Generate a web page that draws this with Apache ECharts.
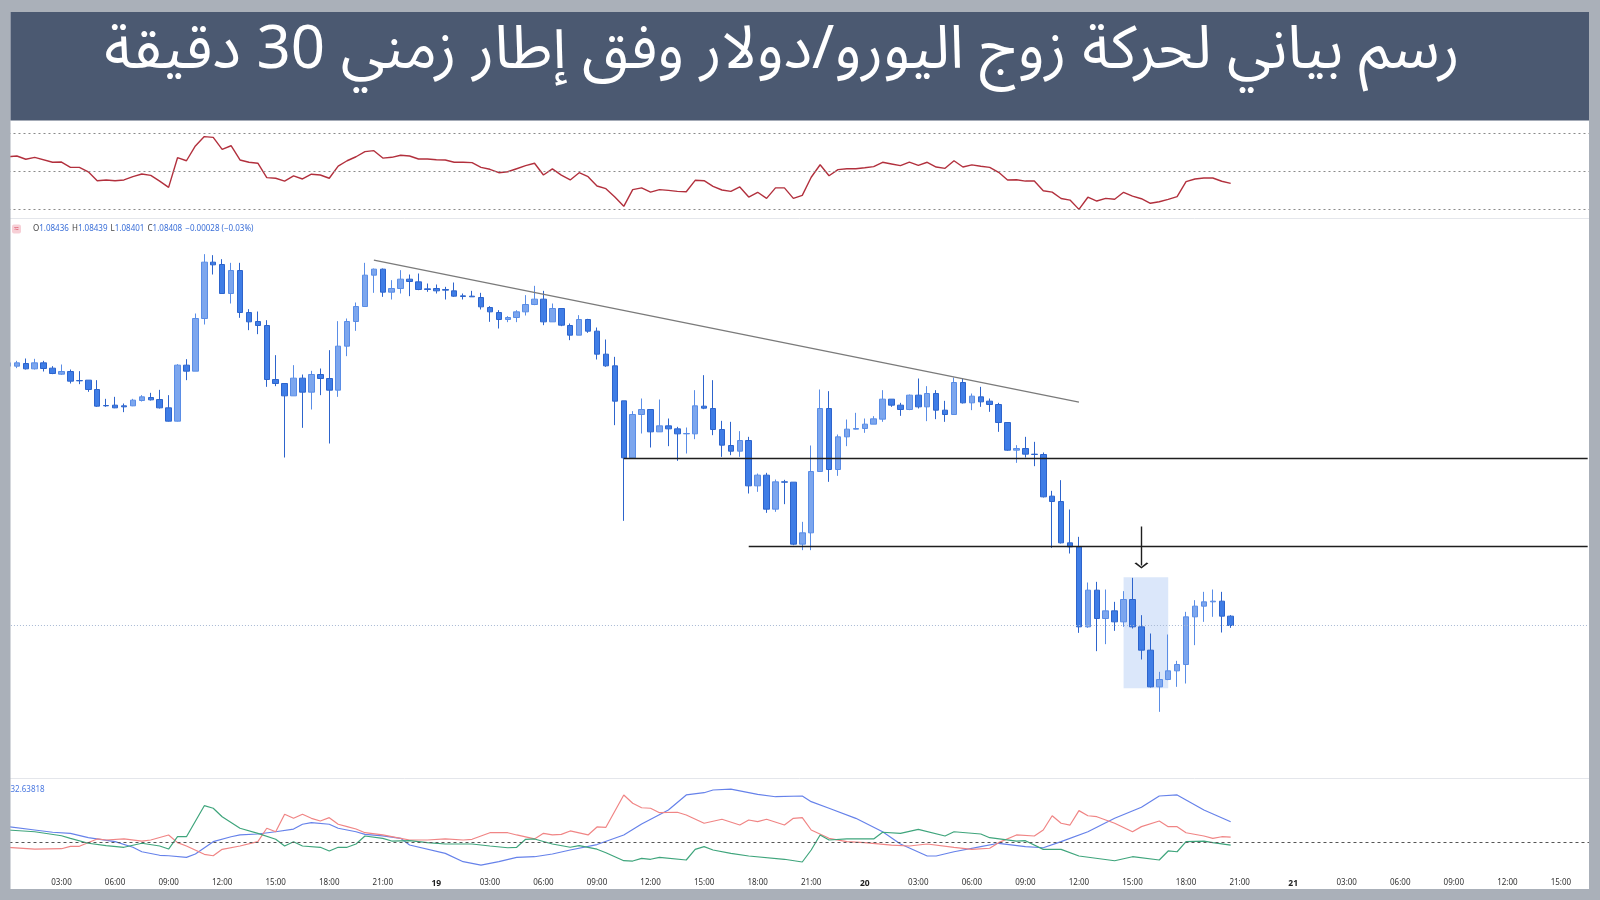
<!DOCTYPE html>
<html><head><meta charset="utf-8">
<script src="https://cdn.jsdelivr.net/npm/echarts@6/dist/echarts.min.js"></script>
<style>html,body{margin:0;padding:0;background:#aab0b9}#c{width:1600px;height:900px}</style>
</head><body><div id="c"></div>
<script>
const titleText = 'رسم بياني لحركة زوج اليورو/دولار وفق إطار زمني 30 دقيقة';
const adxLabel = '32.63818';
// 30-minute slots starting on day 18 at 00:00
const slotCount = 178;
const categories = [];
for (let i = 0; i < slotCount; i++) {
  const m = i * 30, d = 18 + Math.floor(m / 1440), hm = m % 1440;
  categories.push(d + ' ' + String(Math.floor(hm / 60)).padStart(2, '0') + ':' + String(hm % 60).padStart(2, '0'));
}
// one tick label every 6 slots (3 hours)
const tickLabels = ['18','03:00','06:00','09:00','12:00','15:00','18:00','21:00',
  '19','03:00','06:00','09:00','12:00','15:00','18:00','21:00',
  '20','03:00','06:00','09:00','12:00','15:00','18:00','21:00',
  '21','03:00','06:00','09:00','12:00','15:00'];
const dayTicks = ['18','19','20','21'];

const openP = [1.09186,1.09186,1.09194,1.09178,1.09196,1.09180,1.09162,1.09170,1.09143,1.09144,
1.09116,1.09068,1.09069,1.09067,1.09067,1.09083,1.09092,1.09086,1.09061,1.09021,
1.09189,1.09171,1.09329,1.09498,1.09491,1.09404,1.09473,1.09347,1.09320,1.09308,
1.09146,1.09134,1.09097,1.09150,1.09108,1.09161,1.09149,1.09114,1.09246,1.09320,
1.09365,1.09459,1.09477,1.09408,1.09419,1.09447,1.09439,1.09418,1.09419,1.09416,
1.09412,1.09397,1.09396,1.09392,1.09362,1.09347,1.09326,1.09332,1.09349,1.09371,
1.09387,1.09319,1.09359,1.09308,1.09279,1.09326,1.09291,1.09222,1.09187,1.09082,
1.08911,1.09041,1.09056,1.08989,1.09007,1.08998,1.08983,1.08983,1.09066,1.09059,
1.08996,1.08948,1.08931,1.08963,1.08827,1.08859,1.08757,1.08839,1.08838,1.08652,
1.08686,1.08870,1.09059,1.08876,1.08974,1.08997,1.08999,1.09012,1.09027,1.09087,
1.09069,1.09056,1.09099,1.09064,1.09104,1.09054,1.09041,1.09137,1.09076,1.09094,
1.09081,1.09071,1.09017,1.08934,1.08939,1.08922,1.08921,1.08796,1.08780,1.08656,
1.08644,1.08404,1.08514,1.08429,1.08452,1.08419,1.08486,1.08404,1.08334,1.08224,
1.08246,1.08272,1.08291,1.08434,1.08466,1.08479,1.08481,1.08436];
const closeP = [1.09196,1.09196,1.09178,1.09196,1.09179,1.09164,1.09170,1.09141,1.09142,1.09116,
1.09066,1.09067,1.09061,1.09064,1.09084,1.09094,1.09085,1.09061,1.09021,1.09189,
1.09171,1.09329,1.09498,1.09490,1.09404,1.09473,1.09347,1.09319,1.09308,1.09146,
1.09134,1.09097,1.09150,1.09108,1.09161,1.09149,1.09114,1.09246,1.09320,1.09365,
1.09459,1.09477,1.09408,1.09419,1.09447,1.09440,1.09416,1.09416,1.09412,1.09414,
1.09396,1.09395,1.09394,1.09364,1.09349,1.09326,1.09332,1.09349,1.09371,1.09387,
1.09319,1.09359,1.09309,1.09279,1.09326,1.09291,1.09222,1.09187,1.09081,1.08911,
1.09041,1.09056,1.08989,1.09007,1.08998,1.08983,1.08984,1.09067,1.09060,1.08996,
1.08949,1.08931,1.08963,1.08827,1.08859,1.08757,1.08839,1.08838,1.08652,1.08686,
1.08870,1.09059,1.08876,1.08974,1.08997,1.08999,1.09012,1.09028,1.09087,1.09069,
1.09056,1.09099,1.09064,1.09104,1.09054,1.09041,1.09137,1.09076,1.09096,1.09079,
1.09071,1.09017,1.08934,1.08939,1.08922,1.08921,1.08794,1.08780,1.08656,1.08644,
1.08404,1.08514,1.08429,1.08452,1.08419,1.08486,1.08404,1.08334,1.08224,1.08246,
1.08272,1.08291,1.08434,1.08466,1.08479,1.08481,1.08436,1.08408];
const lowP = [1.09182,1.09180,1.09176,1.09176,1.09170,1.09162,1.09160,1.09134,1.09132,1.09109,
1.09064,1.09064,1.09060,1.09048,1.09066,1.09080,1.09083,1.09059,1.09020,1.09020,
1.09144,1.09171,1.09311,1.09461,1.09404,1.09374,1.09331,1.09294,1.09282,1.09124,
1.09126,1.08912,1.09097,1.09001,1.09056,1.09099,1.08954,1.09094,1.09216,1.09292,
1.09365,1.09406,1.09394,1.09386,1.09404,1.09396,1.09414,1.09409,1.09404,1.09386,
1.09394,1.09386,1.09394,1.09356,1.09319,1.09299,1.09318,1.09318,1.09338,1.09369,
1.09309,1.09319,1.09306,1.09264,1.09279,1.09286,1.09206,1.09184,1.09009,1.08722,
1.08911,1.08984,1.08942,1.08989,1.08946,1.08902,1.08924,1.08967,1.09057,1.08979,
1.08914,1.08919,1.08914,1.08804,1.08809,1.08746,1.08749,1.08772,1.08649,1.08634,
1.08634,1.08870,1.08839,1.08857,1.08946,1.08996,1.08986,1.09012,1.09019,1.09064,
1.09037,1.09054,1.09059,1.09021,1.09027,1.09019,1.09041,1.09074,1.09054,1.09064,
1.09049,1.08989,1.08932,1.08896,1.08912,1.08886,1.08792,1.08641,1.08654,1.08624,
1.08386,1.08401,1.08331,1.08352,1.08392,1.08404,1.08399,1.08306,1.08222,1.08149,
1.08244,1.08224,1.08234,1.08349,1.08419,1.08434,1.08387,1.08401];
const highP = [1.09202,1.09202,1.09209,1.09208,1.09202,1.09186,1.09191,1.09176,1.09171,1.09144,
1.09144,1.09088,1.09094,1.09074,1.09088,1.09099,1.09106,1.09115,1.09099,1.09192,
1.09207,1.09344,1.09522,1.09519,1.09507,1.09496,1.09496,1.09357,1.09350,1.09324,
1.09219,1.09134,1.09189,1.09161,1.09172,1.09179,1.09234,1.09321,1.09329,1.09377,
1.09496,1.09479,1.09479,1.09444,1.09474,1.09461,1.09464,1.09434,1.09431,1.09424,
1.09437,1.09404,1.09412,1.09406,1.09366,1.09354,1.09336,1.09354,1.09399,1.09427,
1.09412,1.09374,1.09359,1.09314,1.09339,1.09328,1.09302,1.09266,1.09214,1.09082,
1.09051,1.09089,1.09056,1.09086,1.09029,1.09004,1.09002,1.09114,1.09159,1.09144,
1.09022,1.09019,1.08991,1.08974,1.08864,1.08866,1.08846,1.08845,1.08838,1.08719,
1.08948,1.09116,1.09111,1.08981,1.09026,1.09046,1.09029,1.09036,1.09114,1.09087,
1.09076,1.09101,1.09149,1.09126,1.09114,1.09082,1.09152,1.09149,1.09104,1.09124,
1.09089,1.09076,1.09017,1.08949,1.08974,1.08959,1.08927,1.08812,1.08844,1.08756,
1.08674,1.08537,1.08539,1.08516,1.08479,1.08511,1.08551,1.08439,1.08384,1.08269,
1.08381,1.08302,1.08449,1.08484,1.08509,1.08516,1.08509,1.08439];

// RSI (slot index, value)
const rsiPts = [[0,57.5],[1,57.9],[2,56.2],[3,57.2],[5,54.6],[6,54.7],[7,51.9],[8,51.9],[9,49.6],[10,44.9],[11,45.3],[12,44.9],[13,45.3],[14,47.0],[15,48.4],[16,47.7],[17,44.7],[18,41.4],[19,57.0],[20,55.4],[21,63.2],[22,68.1],[23,67.7],[24,61.4],[25,63.3],[26,55.8],[27,54.6],[28,54.1],[29,46.5],[30,46.2],[31,44.7],[32,47.4],[33,45.8],[34,48.3],[35,47.9],[36,46.2],[37,52.6],[38,55.4],[39,57.5],[40,60.2],[41,60.7],[42,56.8],[43,57.2],[44,58.3],[45,57.9],[46,56.3],[47,56.3],[48,55.9],[49,55.8],[50,54.6],[51,54.6],[52,54.4],[53,51.9],[54,50.9],[55,49.1],[56,49.6],[57,51.2],[58,52.8],[59,54.1],[60,47.9],[61,51.1],[62,47.8],[63,45.3],[64,49.1],[65,47.0],[66,42.1],[67,40.7],[68,36.3],[69,31.4],[70,40.2],[71,41.1],[72,38.9],[73,40.2],[74,39.8],[75,39.3],[76,39.1],[77,45.1],[78,44.9],[79,41.9],[80,40.0],[81,39.3],[82,41.6],[83,36.3],[84,38.8],[85,35.6],[86,41.1],[87,41.1],[88,35.6],[89,37.2],[90,46.7],[91,53.3],[92,47.5],[93,50.7],[94,51.2],[95,51.2],[96,51.7],[97,52.3],[98,54.6],[99,53.7],[100,52.8],[101,54.7],[102,53.0],[103,54.6],[104,52.1],[105,51.4],[106,55.4],[107,52.1],[108,53.2],[109,52.5],[110,51.9],[111,49.3],[112,45.3],[113,45.4],[114,44.7],[115,44.7],[116,39.6],[117,38.9],[118,35.5],[119,34.7],[120,29.8],[121,36.2],[122,34.2],[123,35.6],[124,35.1],[125,38.8],[126,36.8],[127,35.4],[128,33.0],[129,33.8],[130,35.1],[131,36.5],[132,44.4],[133,45.8],[134,46.3],[135,46.3],[136,44.6],[137,43.5]];
const rsiLevels = [70, 50, 30];

// DMI panel (slot index, value)
const adxPts = [[0,29.6],[3,27.5],[5,26.1],[7,25.4],[9,22.7],[12,20.2],[14,16.7],[15,13.9],[17,11.7],[18,11.4],[20,10.4],[21,12.5],[23,20.2],[25,23.3],[26,24.4],[28,25],[30,26.4],[32,28.1],[33,31.1],[34,32.1],[36,31.1],[37,28.6],[39,26.4],[40,24.8],[42,23.8],[44,22.3],[45,18.1],[49,12.9],[51,7.7],[53,5.6],[55,7.7],[57,10.4],[59,10.8],[61,12.5],[63,15],[66,18.4],[69,24.4],[71,31.3],[74,40],[76,49.4],[78,50.8],[79,52.5],[81,53.1],[84,49.8],[86,48.3],[89,48.75],[90,45.2],[92,41.1],[95,34.8],[98,26.4],[100,18.75],[103,11.25],[104,11.25],[106,13.9],[109,17.1],[111,19.2],[114,17.1],[116,16.4],[118,20.2],[121,26.4],[124,34.8],[127,41.7],[129,48.75],[131,49.4],[132,46.25],[134,40],[137,32.64]];
const diMinusPts = [[0,16.7],[3,15.6],[6,15.8],[7,17.3],[8,17.3],[10,21.9],[11,21.25],[13,21.9],[15,20.6],[16,21.25],[18,24.4],[19,19.6],[20,17.5],[22,12.3],[23,11.4],[24,15.4],[26,17.5],[28,20.2],[29,28.6],[30,26.4],[31,37.3],[32,34.8],[33,37.3],[34,34.8],[35,33.1],[36,35.2],[37,31.1],[38,29.6],[39,28.1],[40,25.8],[42,24.4],[44,22.3],[45,21.25],[47,21.25],[49,21.9],[51,21.25],[52,21.7],[54,25.8],[56,25.8],[57,24.4],[59,21.9],[60,25.4],[61,24.4],[62,24.8],[63,26.9],[65,24.4],[66,29.4],[67,29.2],[69,49.4],[70,44.2],[71,41.4],[72,41.1],[73,38.3],[75,38.6],[76,36.9],[78,31.7],[80,34.2],[82,30.6],[83,33.75],[84,32.7],[85,34.2],[87,30.6],[88,34.8],[89,35.2],[90,27.5],[92,22.3],[94,20.2],[96,19.6],[99,18.1],[101,17.5],[103,18.75],[106,16.7],[108,15.4],[110,16.1],[111,19.6],[113,24.4],[115,23.75],[116,27.5],[117,36.4],[118,31.7],[119,30.6],[120,39.6],[121,36.4],[122,35.8],[124,31.7],[126,26.4],[127,29.6],[129,33.1],[130,29.6],[131,29.6],[132,25.8],[134,23.75],[135,22.3],[136,23.3],[137,23.1]];
const diPlusPts = [[0,27.5],[3,26.4],[6,23.9],[7,22.3],[9,19.2],[11,17.7],[13,16.7],[15,19.2],[17,17.5],[18,15.6],[19,23.3],[20,23.3],[22,42.7],[23,41.1],[24,35.8],[26,28.6],[28,25.4],[30,21.7],[31,17.5],[32,20.2],[33,17.5],[35,16.7],[36,14.4],[37,16.7],[38,16.7],[39,18.75],[40,23.75],[42,22.3],[43,20.6],[45,20.8],[47,19.6],[49,18.75],[51,18.75],[52,18.75],[54,17.5],[56,16.4],[57,16.7],[58,21.7],[59,21.9],[61,18.75],[63,16.7],[64,17.7],[66,15.5],[67,13.3],[69,8.3],[70,8.1],[71,9.8],[72,9.2],[73,10.4],[76,8.75],[77,15.4],[78,17.1],[79,15],[81,12.9],[83,11.25],[87,9.2],[89,7.5],[90,15],[91,24.4],[92,21.25],[94,21.9],[97,21.9],[98,26.1],[100,25.4],[102,27.9],[105,23.75],[106,26.4],[109,25],[110,22.7],[113,20.6],[114,20.8],[116,15.4],[118,15.4],[120,11.25],[124,8.3],[126,10.8],[129,8.75],[130,14.4],[131,13.9],[132,20.2],[134,20.6],[135,19.6],[137,18.1]];
const dmiLevel = 20;

// annotations (slot index, price)
const trendLine = [[41, 1.09504], [120, 1.09078]];
const supportLines = [[69, 1.08911], [83, 1.08647]];
const lastSlot = 177;
const arrowLine = [[127, 1.08705], [127, 1.08588]];
const highlightBox = [[125, 1.08553], [130, 1.08220]];

const GL = 3.49, GR = 7.86;
const last = openP.length - 1;
const chg = closeP[last] - openP[last];
const chgPct = chg / openP[last] * 100;
const fmtSigned = (v, d) => (v < 0 ? '\u2212' : '+') + Math.abs(v).toFixed(d);
const ohlcText = '{l|O}{v|' + openP[last].toFixed(5) + '} {l|H}{v|' + highP[last].toFixed(5) + '} {l|L}{v|' + lowP[last].toFixed(5) +
  '} {l|C}{v|' + closeP[last].toFixed(5) + '} {v|' + fmtSigned(chg, 5) + ' (' + fmtSigned(chgPct, 2) + '%)}';

const candleData = openP.map((o, i) => [o, closeP[i], lowP[i], highP[i]]);
const chevron = 'path://M5,0 L10,8 L8.7,9.2 L5,2.8 L1.3,9.2 L0,8 Z';

const chart = echarts.init(document.getElementById('c'), null, {renderer: 'canvas'});
const FONT = '"Noto Sans", "Liberation Sans", "DejaVu Sans", sans-serif';
const hiddenX = (gi) => ({type: 'category', gridIndex: gi, data: categories, boundaryGap: true, show: false});

chart.setOption({
  animation: false,
  backgroundColor: '#ffffff',
  grid: [
    {left: GL, right: GR, top: 122, height: 96},
    {left: GL, right: GR, top: 232, height: 544},
    {left: GL, right: GR, top: 780, height: 88}
  ],
  xAxis: [hiddenX(0), hiddenX(1), {
    type: 'category', gridIndex: 2, data: categories, boundaryGap: true,
    axisLine: {show: false}, axisTick: {show: false}, splitLine: {show: false},
    axisLabel: {
      interval: (idx) => idx % 6 === 0 && idx > 0,
      margin: 11, fontSize: 8, color: '#333', fontFamily: FONT,
      formatter: (val, idx) => {
        const t = tickLabels[Math.round(idx / 6)];
        return dayTicks.indexOf(t) >= 0 ? '{b|' + t + '}' : t;
      },
      rich: {b: {fontWeight: 'bold', fontSize: 8.5, color: '#222', fontFamily: FONT}}
    }
  }],
  yAxis: [
    {type: 'value', gridIndex: 0, min: 25.263, max: 75.789, show: false},
    {type: 'value', gridIndex: 1, min: 1.079565, max: 1.095885, scale: true, show: false},
    {type: 'value', gridIndex: 2, min: 3.75, max: 58.75, show: false}
  ],
  series: [
    {
      type: 'line', xAxisIndex: 0, yAxisIndex: 0, data: rsiPts, symbol: 'none',
      lineStyle: {color: '#b2303d', width: 1.4}, silent: true,
      markLine: {silent: true, symbol: ['none', 'none'], label: {show: false},
        lineStyle: {color: '#8a8a8a', type: [2, 3], width: 1},
        data: rsiLevels.map(v => ({yAxis: v}))}
    },
    {
      type: 'candlestick', xAxisIndex: 1, yAxisIndex: 1, data: candleData, barWidth: 6,
      itemStyle: {color: '#7ca6ee', color0: '#3f7de6', borderColor: '#5a8de6', borderColor0: '#2d64cc', borderWidth: 1},
      silent: true,
      markArea: {silent: true, itemStyle: {color: 'rgba(110,160,235,0.25)'},
        data: [[{coord: highlightBox[0]}, {coord: highlightBox[1]}]]},
      markLine: {
        silent: true, symbol: ['none', 'none'], label: {show: false},
        data: [
          [{coord: [0, closeP[last]], lineStyle: {color: '#a8b9d4', type: [1, 2], width: 1}}, {coord: [lastSlot, closeP[last]]}],
          [{coord: trendLine[0], lineStyle: {color: '#7a7a7a', width: 1.3, type: 'solid'}}, {coord: trendLine[1]}],
          [{coord: supportLines[0], lineStyle: {color: '#1e1e1e', width: 1.4, type: 'solid'}}, {coord: [lastSlot, supportLines[0][1]]}],
          [{coord: supportLines[1], lineStyle: {color: '#1e1e1e', width: 1.4, type: 'solid'}}, {coord: [lastSlot, supportLines[1][1]]}],
          [{coord: arrowLine[0], symbol: 'none', lineStyle: {color: '#1e1e1e', width: 1.4, type: 'solid'}},
           {coord: arrowLine[1], symbol: chevron, symbolSize: [14, 6]}]
        ]
      }
    },
    {type: 'line', xAxisIndex: 2, yAxisIndex: 2, data: adxPts, symbol: 'none', silent: true,
      lineStyle: {color: '#6682ea', width: 1.2},
      markLine: {silent: true, symbol: ['none', 'none'], label: {show: false},
        lineStyle: {color: '#555', type: [3, 3], width: 1}, data: [{yAxis: dmiLevel}]}},
    {type: 'line', xAxisIndex: 2, yAxisIndex: 2, data: diMinusPts, symbol: 'none', silent: true,
      lineStyle: {color: '#f08585', width: 1.2}},
    {type: 'line', xAxisIndex: 2, yAxisIndex: 2, data: diPlusPts, symbol: 'none', silent: true,
      lineStyle: {color: '#3fa57c', width: 1.2}}
  ],
  graphic: [
    {type: 'line', z: 90, shape: {x1: 10, y1: 218.5, x2: 1589, y2: 218.5}, style: {stroke: '#e4e6eb', lineWidth: 1}},
    {type: 'line', z: 90, shape: {x1: 10, y1: 778.5, x2: 1589, y2: 778.5}, style: {stroke: '#e4e6eb', lineWidth: 1}},
    {type: 'rect', z: 100, shape: {x: 0, y: 0, width: 10.5, height: 900}, style: {fill: '#aab0b9'}},
    {type: 'rect', z: 100, shape: {x: 1589, y: 0, width: 11, height: 900}, style: {fill: '#aab0b9'}},
    {type: 'rect', z: 100, shape: {x: 0, y: 0, width: 1600, height: 12}, style: {fill: '#aab0b9'}},
    {type: 'rect', z: 100, shape: {x: 0, y: 889, width: 1600, height: 11}, style: {fill: '#aab0b9'}},
    {type: 'rect', z: 101, shape: {x: 10.5, y: 12, width: 1578.5, height: 108.5}, style: {fill: '#4b5971'}},
    {type: 'text', z: 102, x: 782, y: 59, style: {text: titleText, fill: '#ffffff', fontSize: 60,
      fontFamily: '"Noto Sans Arabic", "Noto Sans", "DejaVu Sans", sans-serif', align: 'center', verticalAlign: 'middle'}},
    {type: 'rect', z: 102, shape: {x: 12, y: 224.5, width: 9, height: 9, r: 2}, style: {fill: '#f7cfd6'}},
    {type: 'text', z: 103, x: 16.5, y: 229, style: {text: '\u2248', fill: '#d8455c', fontSize: 8, align: 'center', verticalAlign: 'middle'}},
    {type: 'text', z: 102, x: 33, y: 229, style: {text: ohlcText, verticalAlign: 'middle', fontFamily: FONT,
      rich: {l: {fill: '#444', fontSize: 8, fontFamily: FONT}, v: {fill: '#3a6fd8', fontSize: 8, fontFamily: FONT}}}},
    {type: 'text', z: 102, x: 10.5, y: 790, style: {text: adxLabel, fill: '#4a78e0', fontSize: 8, fontFamily: FONT, verticalAlign: 'middle'}}
  ]
});
</script></body></html>
